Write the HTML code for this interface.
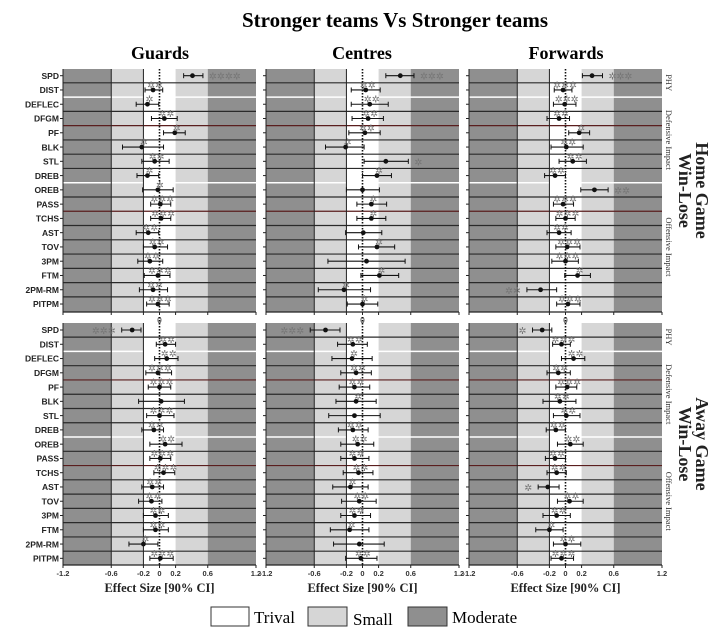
<!DOCTYPE html>
<html><head><meta charset="utf-8"><style>
html,body{margin:0;padding:0;background:#fff;}
svg{display:block;}
</style></head><body>
<svg id="chart" width="728" height="632" xmlns="http://www.w3.org/2000/svg">
<text x="395" y="27" text-anchor="middle" font-family="Liberation Serif, serif" font-weight="bold" font-size="21">Stronger teams Vs Stronger teams</text>
<g id="plots"></g>
<text x="160" y="59" text-anchor="middle" font-family="Liberation Serif, serif" font-weight="bold" font-size="18">Guards</text>
<text x="362" y="59" text-anchor="middle" font-family="Liberation Serif, serif" font-weight="bold" font-size="18">Centres</text>
<text x="566" y="59" text-anchor="middle" font-family="Liberation Serif, serif" font-weight="bold" font-size="18">Forwards</text>
<g>
<rect x="211" y="607" width="38" height="19" fill="#fff" stroke="#333"/>
<text x="254" y="623" font-family="Liberation Serif, serif" font-size="17">Trival</text>
<rect x="308" y="607" width="39" height="19" fill="#d6d6d6" stroke="#333"/>
<text x="353" y="625" font-family="Liberation Serif, serif" font-size="17">Small</text>
<rect x="408" y="607" width="39" height="19" fill="#8f8f8f" stroke="#333"/>
<text x="452" y="623" font-family="Liberation Serif, serif" font-size="17">Moderate</text>
</g>
</svg>
<script>
const metrics=["SPD","DIST","DEFLEC","DFGM","PF","BLK","STL","DREB","OREB","PASS","TCHS","AST","TOV","3PM","FTM","2PM-RM","PITPM"];
const ticks=[-1.2,-0.6,-0.2,0,0.2,0.6,1.2];
const tickLabels=["-1.2","-0.6","-0.2","0","0.2","0.6","1.2"];
// Home
const gHomeMean=[0.41,-0.08,-0.15,0.06,0.19,-0.22,-0.06,-0.15,-0.02,0.01,0.02,-0.14,-0.06,-0.12,-0.02,-0.08,-0.02];
const gHomeLo=[0.30,-0.18,-0.29,-0.10,0.05,-0.46,-0.22,-0.28,-0.21,-0.11,-0.11,-0.29,-0.20,-0.27,-0.19,-0.25,-0.16];
const gHomeHi=[0.54,0.04,-0.01,0.22,0.32,0.05,0.12,-0.01,0.17,0.14,0.14,-0.01,0.10,0.04,0.13,0.10,0.12];
const gHomeStars=["****","**","*","**","*","*","**","*","*","***","***","**","**","**","***","**","***"];
const cHomeMean=[0.47,0.04,0.09,0.07,0.03,-0.21,0.29,0.18,0,0.11,0.11,0.01,0.18,0.05,0.21,-0.23,0];
const cHomeLo=[0.29,-0.14,-0.14,-0.13,-0.17,-0.46,0.02,0,-0.20,-0.07,-0.07,-0.21,-0.05,-0.43,-0.02,-0.55,-0.19];
const cHomeHi=[0.64,0.22,0.32,0.26,0.22,0.02,0.57,0.36,0.21,0.30,0.29,0.24,0.40,0.53,0.45,0.10,0.19];
const cHomeStars=["***","**","**","**","**","*","*","*","","*","*","","*","","*","*","*"];
const fHomeMean=[0.33,-0.03,-0.01,-0.08,0.17,0.01,0.09,-0.13,0.36,-0.03,0,-0.08,0.02,0,0.15,-0.31,0.03];
const fHomeLo=[0.21,-0.14,-0.15,-0.23,0.04,-0.18,-0.08,-0.26,0.19,-0.15,-0.12,-0.23,-0.12,-0.17,-0.01,-0.48,-0.11];
const fHomeHi=[0.46,0.08,0.13,0.05,0.30,0.22,0.26,0,0.53,0.10,0.12,0.07,0.18,0.16,0.31,-0.11,0.18];
const fHomeStars=["***","***","***","**","*","**","**","**","**","***","***","**","***","***","*","**","***"];
// Away
const gAwayMean=[-0.34,0.07,0.09,-0.02,0,0.02,0,-0.07,0.07,0.01,0.05,-0.09,-0.10,-0.05,-0.05,-0.20,0.01];
const gAwayLo=[-0.47,-0.04,-0.06,-0.17,-0.14,-0.26,-0.16,-0.22,-0.12,-0.12,-0.07,-0.22,-0.26,-0.20,-0.20,-0.38,-0.12];
const gAwayHi=[-0.23,0.20,0.23,0.15,0.14,0.31,0.18,0.05,0.28,0.14,0.19,0.05,0.03,0.11,0.11,-0.02,0.17];
const gAwayStars=["***","**","**","***","***","","***","**","**","***","***","**","**","**","**","*","***"];
const cAwayMean=[-0.46,-0.12,-0.13,-0.08,-0.10,-0.08,-0.10,-0.12,-0.06,-0.10,-0.05,-0.15,-0.04,-0.10,-0.16,-0.04,-0.02];
const cAwayLo=[-0.65,-0.31,-0.38,-0.27,-0.29,-0.33,-0.42,-0.30,-0.27,-0.27,-0.24,-0.37,-0.26,-0.27,-0.40,-0.36,-0.21];
const cAwayHi=[-0.28,0.06,0.12,0.11,0.09,0.17,0.22,0.07,0.14,0.08,0.13,0.07,0.17,0.10,0.08,0.27,0.18];
const cAwayStars=["***","**","*","**","**","*","","**","**","**","**","*","**","**","*","","**"];
const fAwayMean=[-0.29,-0.05,0.10,-0.09,0.02,-0.07,0.01,-0.12,0.06,-0.13,-0.11,-0.22,0.05,-0.11,-0.20,0,-0.05];
const fAwayLo=[-0.41,-0.16,-0.05,-0.23,-0.12,-0.28,-0.15,-0.24,-0.10,-0.25,-0.23,-0.34,-0.10,-0.28,-0.37,-0.15,-0.18];
const fAwayHi=[-0.17,0.06,0.24,0.06,0.14,0.13,0.18,0,0.22,0,0.01,-0.08,0.22,0.06,-0.03,0.19,0.10];
const fAwayStars=["*","***","**","**","***","**","**","**","**","**","**","*","**","**","*","**","***"];

const NS="http://www.w3.org/2000/svg";
const root=document.getElementById('plots');
function mk(tag,attrs,parent){const e=document.createElementNS(NS,tag);for(const k in attrs)e.setAttribute(k,attrs[k]);(parent||root).appendChild(e);return e;}
const colsX=[63,266,469], W=193;
const rows=[{top:69,bot:312,first:75.7},{top:323,bot:565,first:330}];
const step=14.27;
const panels=[
 [gHomeMean,gHomeLo,gHomeHi,gHomeStars,0,0,"guards-home"],
 [cHomeMean,cHomeLo,cHomeHi,cHomeStars,1,0,"centres-home"],
 [fHomeMean,fHomeLo,fHomeHi,fHomeStars,2,0,"forwards-home"],
 [gAwayMean,gAwayLo,gAwayHi,gAwayStars,0,1,"guards-away"],
 [cAwayMean,cAwayLo,cAwayHi,cAwayStars,1,1,"centres-away"],
 [fAwayMean,fAwayLo,fAwayHi,fAwayStars,2,1,"forwards-away"]];
panels.forEach(p=>{
 const [mean,lo,hi,stars,ci,ri,name]=p;
 const x0=colsX[ci], r=rows[ri];
 const xs=v=>x0+(v+1.2)/2.4*W;
 const ys=i=>r.first+i*step;
 const g=mk('g',{});
 
 
 const bands=[[-1.2,-0.6,'#8f8f8f'],[-0.6,-0.2,'#d6d6d6'],[-0.2,0.2,'#ffffff'],[0.2,0.6,'#d6d6d6'],[0.6,1.2,'#8f8f8f']];
 bands.forEach(b=>{const e=mk('rect',{x:xs(b[0]),y:r.top,width:xs(b[1])-xs(b[0]),height:r.bot-r.top,fill:b[2]},g);
  });
 for(let i=0;i<metrics.length-1;i++){
  const y=(ys(i)+ys(i+1))/2;
  let col='#2a2a2a',w=1.2;
  if(i===1||i===7){col='#ffffff';w=1.5;}
  if(i===3||i===9){col='#5a1e1e';w=1.2;}
  const l=mk('line',{x1:x0,x2:x0+W,y1:y,y2:y,stroke:col,'stroke-width':w},g);
  
 }
 [-0.6,-0.2].forEach(v=>{const l=mk('line',{x1:xs(v),x2:xs(v),y1:r.top,y2:r.bot,stroke:'#222','stroke-width':1},g);
  });
 const z=mk('line',{x1:xs(0),x2:xs(0),y1:r.top-(ri?6:0),y2:r.bot,stroke:'#111','stroke-width':1.6,'stroke-dasharray':'1.5,1.5'},g);
 
 const la=mk('line',{x1:x0,x2:x0,y1:r.top,y2:r.bot,stroke:'#222','stroke-width':1},g);
 
 metrics.forEach((m,i)=>{
  mk('line',{x1:x0-3,x2:x0,y1:ys(i),y2:ys(i),stroke:'#222'},g);
  if(ci===0){const t=mk('text',{x:x0-4,y:ys(i)+3.2,'text-anchor':'end','font-family':'Liberation Sans, sans-serif','font-weight':'bold','font-size':'8.5',fill:'#222'},g);
   t.textContent=m;}
  const c=mk('line',{x1:xs(lo[i]),x2:xs(hi[i]),y1:ys(i),y2:ys(i),stroke:'#111','stroke-width':1.1},g);
  
  [lo[i],hi[i]].forEach(v=>mk('line',{x1:xs(v),x2:xs(v),y1:ys(i)-2.5,y2:ys(i)+2.5,stroke:'#111'},g));
  const d=mk('circle',{cx:xs(mean[i]),cy:ys(i),r:2.4,fill:'#111'},g);
  
  if(stars[i]){
   let sx,sy,anchor='middle';
   if(Math.abs(mean[i])>0.2&&(lo[i]>0||hi[i]<0)){
     if(mean[i]>0){sx=xs(hi[i])+6;anchor='start';}else{sx=xs(lo[i])-6;anchor='end';}
     sy=ys(i)+4;
   }else{sx=xs(mean[i])+2;sy=ys(i)-1.5;}
   const s=mk('text',{x:sx,y:sy,'text-anchor':anchor,'font-family':'DejaVu Sans, sans-serif','font-size':'9.5',fill:'#777'},g);
   s.textContent=stars[i].replace(/\*/g,'✲');
   
  }
 });
 const ba=mk('line',{x1:x0,x2:x0+W,y1:r.bot,y2:r.bot,stroke:'#222','stroke-width':1.2},g);
 
 ticks.forEach((v,k)=>{
  mk('line',{x1:xs(v),x2:xs(v),y1:r.bot,y2:r.bot+3,stroke:'#222'},g);
  if(ri===1){const t=mk('text',{x:xs(v),y:r.bot+11,'text-anchor':'middle','font-family':'Liberation Sans, sans-serif','font-weight':'bold','font-size':'7.5',fill:'#333'},g);
   t.textContent=tickLabels[k];}
 });
 if(ri===0){const t=mk('text',{x:xs(0),y:r.bot+11,'text-anchor':'middle','font-family':'Liberation Sans, sans-serif','font-size':'8',fill:'#333'},g);
  t.textContent='0';}
 if(ri===1){const t=mk('text',{x:x0+W/2,y:592,'text-anchor':'middle','font-family':'Liberation Serif, serif','font-weight':'bold','font-size':'12.5',fill:'#222'},g);
  t.textContent='Effect Size [90% CI]';}
 if(ci===2){
  const labs=[['PHY',ys(0)+7],['Defensive Impact',(ys(2)+ys(7))/2],['Offensive Impact',(ys(8)+ys(16))/2]];
  labs.forEach(L=>{const t=mk('text',{x:0,y:0,transform:`translate(${x0+W+4},${L[1]}) rotate(90)`,'text-anchor':'middle','font-family':'Liberation Serif, serif','font-size':'8.5',fill:'#333'},g);
   t.textContent=L[0];});
  const cy=(r.top+r.bot)/2;
  const t1=mk('text',{x:0,y:0,transform:`translate(696,${cy}) rotate(90)`,'text-anchor':'middle','font-family':'Liberation Serif, serif','font-weight':'bold','font-size':'18',fill:'#222'},g);
  t1.textContent=ri?'Away Game':'Home Game';
  const t2=mk('text',{x:0,y:0,transform:`translate(679,${cy}) rotate(90)`,'text-anchor':'middle','font-family':'Liberation Serif, serif','font-weight':'bold','font-size':'18',fill:'#222'},g);
  t2.textContent='Win-Lose';
 }
});
</script>
</body></html>
